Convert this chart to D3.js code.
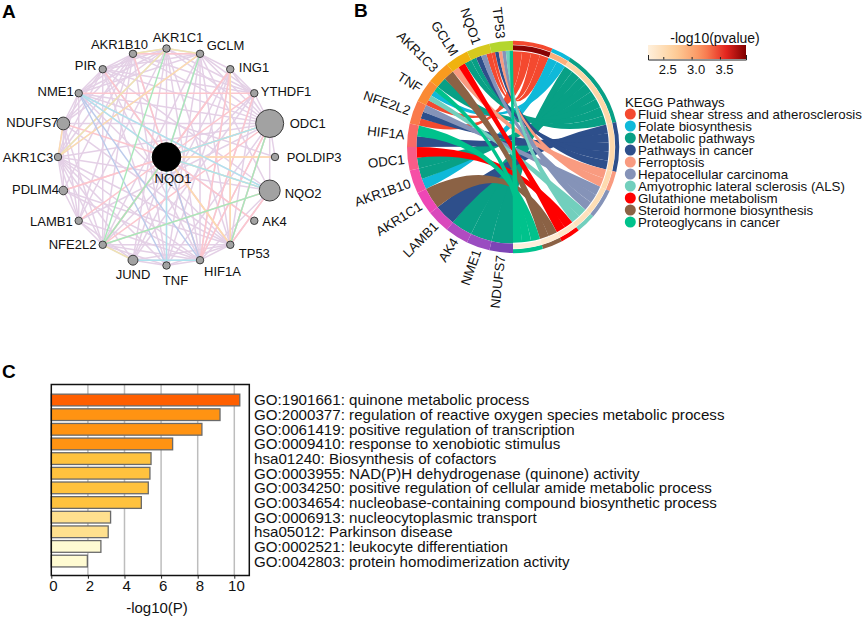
<!DOCTYPE html>
<html><head><meta charset="utf-8">
<script src="https://cdn.jsdelivr.net/npm/d3@7"></script>
<style>html,body{margin:0;padding:0;background:#fff}text{font-family:"Liberation Sans",Arial,sans-serif;fill:#111}</style>
</head><body><svg id="c" width="865" height="618"></svg>
<script>
// ---------- Panel A data
const ringNodes=["AKR1C1","GCLM","ING1","YTHDF1","ODC1","POLDIP3","NQO2","AK4","TP53","HIF1A","TNF","JUND","NFE2L2","LAMB1","PDLIM4","AKR1C3","NDUFS7","NME1","PIR","AKR1B10"];
const nodeScores={NQO1:1,ODC1:.96,NQO2:.54,NDUFS7:.2,JUND:.12,PDLIM4:.09};
const purpleEdges={
AKR1C1:["AKR1B10","GCLM","PIR","NME1","AKR1C3","LAMB1","JUND","TNF","HIF1A","TP53","ODC1","YTHDF1","NDUFS7"],
GCLM:["AKR1B10","PIR","NME1","AKR1C3","NFE2L2","JUND","TNF","HIF1A","TP53","ODC1","YTHDF1","NQO2","ING1"],
AKR1B10:["PIR","NME1","AKR1C3","NDUFS7","PDLIM4","LAMB1","NFE2L2","TNF","HIF1A","ODC1","YTHDF1"],
PIR:["NME1","AKR1C3","NDUFS7","NFE2L2","TNF","HIF1A","TP53","ODC1","NQO2","YTHDF1"],
NME1:["NDUFS7","AKR1C3","LAMB1","ODC1","POLDIP3","NQO2","TP53","AK4"],
NDUFS7:["AKR1C3","PDLIM4","LAMB1","NFE2L2","ODC1","TP53"],
AKR1C3:["PDLIM4","LAMB1","NFE2L2","JUND","TNF","HIF1A","TP53","ODC1","NQO2"],
PDLIM4:["LAMB1","HIF1A","TP53"],
LAMB1:["NFE2L2","JUND","HIF1A","ODC1"],
NFE2L2:["JUND","TNF","HIF1A","TP53","ING1","YTHDF1"],
JUND:["TNF","HIF1A","TP53","ING1","YTHDF1"],
TNF:["HIF1A","TP53","ING1","ODC1"],
HIF1A:["TP53","ODC1","NQO2","ING1","YTHDF1"],
TP53:["ODC1","NQO2","ING1","YTHDF1"],
ODC1:["YTHDF1","ING1","POLDIP3","NQO2"],
ING1:["YTHDF1"]};
const pinkEdges=[["NQO1","ING1"],["NQO1","YTHDF1"],["NQO1","ODC1"],["NQO1","POLDIP3"],["NQO1","NQO2"],["NQO1","AK4"],["NQO1","TP53"],["NQO1","HIF1A"],["NQO1","NFE2L2"],["NQO1","PDLIM4"],["NQO1","NDUFS7"],["NQO1","PIR"],["NQO1","AKR1B10"],["NQO1","LAMB1"],["ING1","NFE2L2"],["ING1","HIF1A"],["ING1","TP53"],["YTHDF1","NME1"],["YTHDF1","HIF1A"],["ODC1","NFE2L2"],["ODC1","TP53"],["ODC1","HIF1A"],["NQO2","NFE2L2"],["AKR1B10","GCLM"],["PDLIM4","ODC1"],["NQO2","TP53"]];
const greenEdges=[["AKR1C1","NFE2L2"],["GCLM","NQO1"],["NQO1","NFE2L2"],["ODC1","TP53"],["NQO2","NFE2L2"]];
const cyanEdges=[["NQO1","NQO2"],["NME1","NQO2"],["NME1","NQO1"],["TNF","NQO1"],["JUND","HIF1A"],["NQO1","ODC1"]];
const orangeEdges=[["NQO1","ODC1"],["AKR1C3","GCLM"],["AKR1C3","NDUFS7"],["NQO1","TP53"],["ING1","TP53"],["NQO1","POLDIP3"]];
const blueEdges=[["NME1","HIF1A"],["NME1","TNF"],["NQO1","HIF1A"]];
const yellowEdges=[["AKR1B10","AKR1C1"],["AKR1C1","GCLM"],["AKR1C1","AKR1C3"],["NFE2L2","JUND"],["NQO1","NQO2"]];
// ---------- Panel B data
const genes=["NDUFS7","NME1","AK4","LAMB1","AKR1C1","AKR1B10","ODC1","HIF1A","NFE2L2","TNF","AKR1C3","GCLM","NQO1","TP53"];
const pathways=["Fluid shear stress and atherosclerosis","Folate biosynthesis","Metabolic pathways","Pathways in cancer","Ferroptosis","Hepatocellular carcinoma","Amyotrophic lateral sclerosis (ALS)","Glutathione metabolism","Steroid hormone biosynthesis","Proteoglycans in cancer"];
const pathwayP=[3.93,2.95,2.6,2.58,2.55,2.5,2.45,2.38,2.3,2.24];
const geneLinks={NDUFS7:[2],NME1:[2],AK4:[2],LAMB1:[3],AKR1C1:[8],AKR1B10:[1,2],ODC1:[2,7],HIF1A:[3,9],NFE2L2:[0,3,5],TNF:[0,6,1,9],AKR1C3:[2,8],GCLM:[4,7,2],NQO1:[2,3,5,0],TP53:[0,3,4,5,6,9]};
const pTicks=[2.5,3,3.5];
// ---------- Panel C data
const terms=["GO:1901661: quinone metabolic process","GO:2000377: regulation of reactive oxygen species metabolic process","GO:0061419: positive regulation of transcription","GO:0009410: response to xenobiotic stimulus","hsa01240: Biosynthesis of cofactors","GO:0003955: NAD(P)H dehydrogenase (quinone) activity","GO:0034250: positive regulation of cellular amide metabolic process","GO:0034654: nucleobase-containing compound biosynthetic process","GO:0006913: nucleocytoplasmic transport","hsa05012: Parkinson disease","GO:0002521: leukocyte differentiation","GO:0042803: protein homodimerization activity"];
const logP=[10.3,9.22,8.23,6.63,5.45,5.39,5.3,4.92,3.24,3.11,2.71,1.97];
const xTicks=[0,2,4,6,8,10];

// ---------- styles and layout
const svg=d3.select("#c");
const panelLetters=[["A",2,18],["B",354,17],["C",2,378]];
svg.selectAll("text.pl").data(panelLetters).join("text").attr("x",d=>d[1]).attr("y",d=>d[2]).text(d=>d[0]).attr("font-size",19).attr("font-weight","bold").style("fill","#000");

// Panel A
const cA=[166.5,157],rA=108.5;
const ang=d3.scalePoint().domain(ringNodes).range([0,342]);
const pos={NQO1:cA};
ringNodes.forEach(n=>{const a=ang(n)*Math.PI/180;pos[n]=[cA[0]+rA*Math.sin(a),cA[1]-rA*Math.cos(a)]});
const rScale=d3.scaleSqrt().domain([0,1]).range([0,14.3]);
const gA=svg.append("g");
const line=d3.line();
const drawE=(edges,col,w)=>gA.append("g").attr("fill","none").attr("stroke",col).attr("stroke-width",w).selectAll("path").data(edges).join("path").attr("d",e=>line([pos[e[0]],pos[e[1]]]));
const pe=[];Object.entries(purpleEdges).forEach(([k,v])=>v.forEach(o=>pe.push([k,o])));
drawE(pe,"#e4d0e6",1.5);
drawE(pinkEdges,"#fcc6ce",1.5);
drawE(yellowEdges,"#efe4b0",1.4);
drawE(orangeEdges,"#fddcae",1.4);
drawE(blueEdges,"#bccbeb",1.4);
drawE(cyanEdges,"#aee3ee",1.4);
drawE(greenEdges,"#a8e8ba",1.4);
gA.selectAll("circle").data(["NQO1",...ringNodes]).join("circle").attr("cx",d=>pos[d][0]).attr("cy",d=>pos[d][1])
 .attr("r",d=>rScale(nodeScores[d]||.068)).attr("fill",d=>d=="NQO1"?"#000":"#a2a2a2").attr("stroke",d=>d=="NQO1"?"#000":"#3c3c3c").attr("stroke-width",1);
const lblA={NQO1:[6.5,21,"middle"],AKR1C1:[11.5,-11.5,"middle"],GCLM:[6.7,-8.5,"start"],ING1:[8.5,-2,"start"],YTHDF1:[6.5,-2,"start"],ODC1:[20,0,"start"],POLDIP3:[11.7,0,"start"],NQO2:[15,3,"start"],AK4:[8,1,"start"],TP53:[8.5,9,"start"],HIF1A:[4,11,"start"],TNF:[9,14.5,"middle"],JUND:[0,14,"middle"],NFE2L2:[-6.3,0,"end"],LAMB1:[-6,1,"end"],PDLIM4:[-4.3,-1,"end"],AKR1C3:[-4.7,0,"end"],NDUFS7:[-5,-1,"end"],NME1:[-5,-2,"end"],PIR:[-6.3,-4,"end"],AKR1B10:[15,-9.5,"end"]};
gA.selectAll("text").data(["NQO1",...ringNodes]).join("text").text(d=>d).attr("font-size",13)
 .attr("x",d=>pos[d][0]+lblA[d][0]).attr("y",d=>pos[d][1]+lblA[d][1]).attr("dy",".35em").attr("text-anchor",d=>lblA[d][2]);

// Panel B
const cB=[513,147];
const gB=svg.append("g").attr("transform",`translate(${cB})`);
const pathCol=["#f4492f","#0fb9d9","#08a085","#2e4f8b","#f99b80","#8593b8","#72cfbd","#ff0000","#8b6245","#00c28c"];
const geneCol={TP53:"#b4d62e",NQO1:"#d6c91e",GCLM:"#f0b20f",AKR1C3:"#f99a1e",TNF:"#fa8a34",NFE2L2:"#fa7a4a",HIF1A:"#fa6a66",ODC1:"#f95c88",AKR1B10:"#f64fa6",AKR1C1:"#ee46b6",LAMB1:"#d948bc",AK4:"#b04bc1",NME1:"#9a4cc1",NDUFS7:"#7d45b5"};
const pColor=d3.scaleLinear().domain([2.23,2.7,3.2,3.6,3.96]).range(["#fff0dc","#fdd09a","#fb8d5a","#e6261f","#7f0000"]);
const geneAng=d3.scaleBand().domain(genes).range([Math.PI,2*Math.PI]);
const links=[];
genes.forEach(g=>{const a0=geneAng(g),w=geneAng.bandwidth()/geneLinks[g].length;geneLinks[g].forEach((p,i)=>links.push({g,p,a0:a0+i*w,a1:a0+(i+1)*w}))});
const unit=Math.PI/links.length;
let cum=0;const sect=pathways.map((n,i)=>{const ls=links.filter(l=>l.p==i).sort((a,b)=>a.a0-b.a0);const s0=cum;ls.forEach((l,j)=>{l.b0=s0+j*unit;l.b1=s0+(j+1)*unit});cum+=ls.length*unit;return{n,i,s0,s1:cum}});
const arc=d3.arc();
const ribbon=d3.ribbon().sourceRadius(95.8).targetRadius(96.6);
gB.selectAll("path.rb").data(links.slice().sort((a,b)=>a.p-b.p)).join("path").attr("class","rb").attr("fill",d=>pathCol[d.p])
 .attr("d",d=>ribbon({source:{startAngle:d.b0,endAngle:d.b1},target:{startAngle:d.a0,endAngle:d.a1}}));
gB.selectAll("path.gs").data(genes).join("path").attr("class","gs").attr("fill",d=>geneCol[d])
 .attr("d",d=>arc({innerRadius:96.6,outerRadius:106,startAngle:geneAng(d),endAngle:geneAng(d)+geneAng.bandwidth()}));
gB.selectAll("path.ps").data(sect).join("path").attr("class","ps").attr("fill",d=>pathCol[d.i])
 .attr("d",d=>arc({innerRadius:102.2,outerRadius:106.2,startAngle:d.s0,endAngle:d.s1}));
gB.selectAll("path.pv").data(sect).join("path").attr("class","pv").attr("fill",d=>pColor(pathwayP[d.i]))
 .attr("d",d=>arc({innerRadius:96.8,outerRadius:101.8,startAngle:d.s0,endAngle:d.s1}));
gB.selectAll("text").data(genes).join("text").text(d=>d).attr("font-size",13.3).attr("text-anchor","end").attr("dy",".35em")
 .attr("transform",d=>{const a=(geneAng(d)+geneAng.bandwidth()/2)*180/Math.PI;return `rotate(${a-90}) translate(109,0) rotate(180)`});

// colour legend
const lgX=d3.scaleLinear().domain([2.23,3.96]).range([648,746]);
const defs=svg.append("defs");
const grad=defs.append("linearGradient").attr("id","pg");
d3.range(0,1.001,.1).forEach(t=>grad.append("stop").attr("offset",t).attr("stop-color",pColor(2.23+t*1.73)));
svg.append("rect").attr("x",648).attr("y",45).attr("width",98).attr("height",14).attr("fill","url(#pg)");
const lgAxis=svg.append("g").attr("transform","translate(0,59.5)").call(d3.axisBottom(lgX).tickValues(pTicks).tickSize(-2.5).tickSizeOuter(-4.5).tickFormat(d3.format(".1f")));
lgAxis.selectAll("path,line").attr("stroke","#222").attr("stroke-width",1);
lgAxis.selectAll("text").attr("font-size",13).attr("font-family",null).attr("dx",4).attr("y",5);
svg.append("text").attr("x",715).attr("y",43).attr("text-anchor","middle").attr("font-size",14).text("-log10(pvalue)");
// pathway legend
svg.append("text").attr("x",625).attr("y",106.5).attr("font-size",13.3).text("KEGG Pathways");
const lgY=d3.scalePoint().domain(pathways).range([114,222]);
svg.selectAll("circle.lg").data(pathways).join("circle").attr("class","lg").attr("cx",630.3).attr("cy",d=>lgY(d)).attr("r",5.5).attr("fill",(d,i)=>pathCol[i]);
svg.selectAll("text.lg").data(pathways).join("text").attr("class","lg").attr("x",638).attr("y",d=>lgY(d)).attr("dy",".35em").attr("font-size",13.3).text(d=>d);

// Panel C
const xC=d3.scaleLinear().domain([0,10.82]).range([51.3,249.3]);
const yC=d3.scaleBand().domain(terms).range([392.7,568.4]).paddingInner(.2).paddingOuter(.1);
const barCol=d3.scaleThreshold().domain([3,4,6,10]).range(["#fffbd2","#ffe08e","#ffc23e","#ff9312","#ff5f00"]);
const gC=svg.append("g");
gC.selectAll("line.g").data(xTicks.slice(1)).join("line").attr("x1",d=>xC(d)).attr("x2",d=>xC(d)).attr("y1",384.5).attr("y2",575.5).attr("stroke","#bdbdbd").attr("stroke-width",1.5);
gC.selectAll("rect.b").data(terms).join("rect").attr("x",xC(0)).attr("y",d=>yC(d)).attr("height",yC.bandwidth())
 .attr("width",(d,i)=>xC(logP[i])-xC(0)).attr("fill",(d,i)=>barCol(logP[i])).attr("stroke","#6a6a6a").attr("stroke-width",1.3);
gC.append("rect").attr("x",51.3).attr("y",384.5).attr("width",198).attr("height",191).attr("fill","none").attr("stroke","#111").attr("stroke-width",1.5);
const axC=gC.append("g").attr("transform","translate(0,575.7)").call(d3.axisBottom(xC).tickValues(xTicks).tickSize(3).tickSizeOuter(0));
axC.select("path").remove();
axC.selectAll("line").attr("stroke","#222");
axC.selectAll("text").attr("font-size",15).attr("font-family",null).attr("dx",1.6).attr("y",5);
gC.append("text").attr("x",157).attr("y",613).attr("text-anchor","middle").attr("font-size",15).text("-log10(P)");
gC.selectAll("text.t").data(terms).join("text").attr("class","t").attr("x",254).attr("y",d=>yC(d)+yC.bandwidth()/2).attr("dy",".36em").attr("font-size",15.15).text(d=>d);
</script></body></html>
